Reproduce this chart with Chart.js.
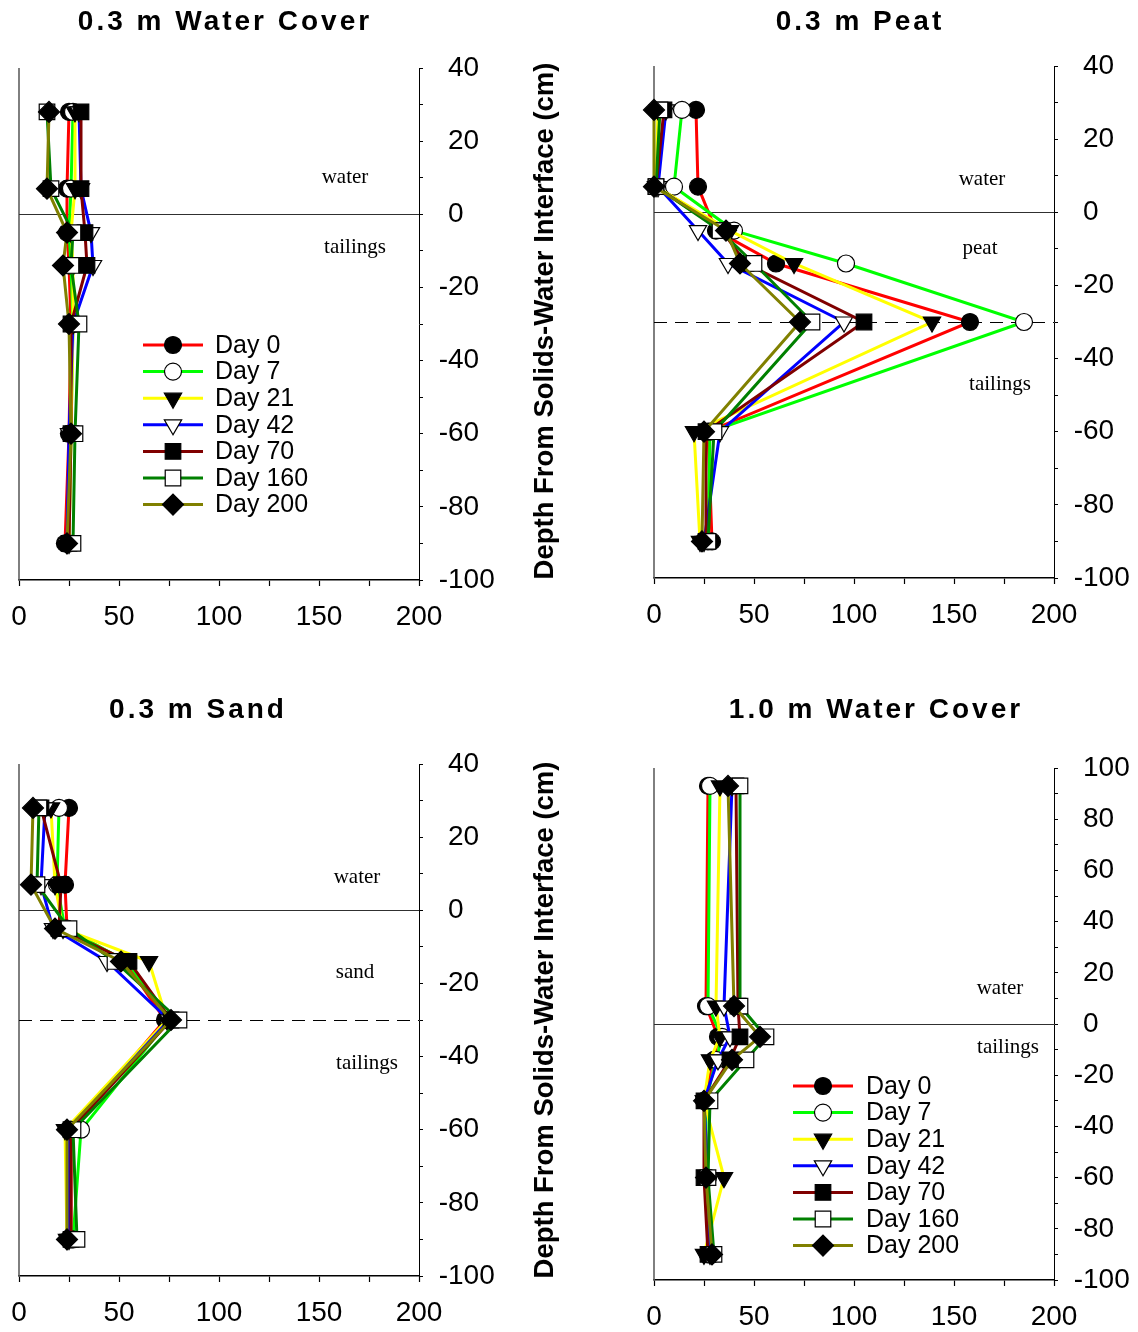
<!DOCTYPE html>
<html>
<head>
<meta charset="utf-8">
<title>Depth profiles</title>
<script src="https://cdn.jsdelivr.net/npm/chart.js@4.4.1/dist/chart.umd.min.js"></script>
<style>
  html, body { margin: 0; padding: 0; background: #fff; }
  #wrap { position: relative; width: 1138px; height: 1332px; overflow: hidden; }
  .panel { position: absolute; }
  canvas { display: block; }
</style>
</head>
<body>
<div id="wrap">
  <div class="panel" style="left:0;top:0"><canvas id="c1" width="569" height="666"></canvas></div>
  <div class="panel" style="left:569px;top:0"><canvas id="c2" width="569" height="666"></canvas></div>
  <div class="panel" style="left:0;top:666px"><canvas id="c3" width="569" height="666"></canvas></div>
  <div class="panel" style="left:569px;top:666px"><canvas id="c4" width="569" height="666"></canvas></div>
</div>
<script>
// ---- data -------------------------------------------------------------
const dayLabels = ['Day 0', 'Day 7', 'Day 21', 'Day 42', 'Day 70', 'Day 160', 'Day 200'];

// sampling depths (cm) relative to the solids-water interface
const depthsShallow = [28, 7, -5, -14, -30, -60, -90];
const depthsDeep    = [93, 7, -5, -14, -30, -60, -90];

// one row per sampling day, one value per depth
const water03Values = [
  [25, 24, 24, 25, 26, 25, 23],
  [27, 26, 25, 26, 27, 26, 25],
  [28, 28, 26, 27, 27, 26, 25],
  [30, 31, 36, 37, 27, 25, 24],
  [31, 31, 33, 34, 26, 26, 25],
  [14, 16, 27, 26, 30, 28, 27],
  [15, 14, 24, 22, 25, 26, 24]
];
const peat03Values = [
  [21, 22, 31, 61, 158, 27, 29],
  [14, 10, 40, 96, 185, 28, 27],
  [2, 1, 38, 70, 139, 20, 23],
  [6, 2, 22, 37, 95, 33, 25],
  [5, 1, 34, 46, 105, 26, 26],
  [3, 1, 33, 50, 79, 30, 27],
  [0, 0, 36, 43, 73, 25, 24]
];
const sand03Values = [
  [25, 23, 24, 53, 73, 26, 26],
  [20, 19, 23, 54, 75, 31, 27],
  [16, 18, 22, 65, 74, 23, 24],
  [13, 11, 17, 44, 75, 25, 25],
  [11, 21, 20, 55, 76, 26, 26],
  [10, 9, 25, 48, 80, 27, 29],
  [7, 6, 18, 51, 76, 24, 24]
];
const water10Values = [
  [27, 26, 32, 30, 25, 27, 27],
  [28, 27, 34, 31, 26, 26, 29],
  [33, 31, 33, 28, 25, 35, 25],
  [39, 35, 38, 32, 25, 27, 28],
  [41, 42, 43, 38, 25, 25, 27],
  [43, 43, 56, 46, 28, 27, 30],
  [37, 40, 53, 39, 25, 26, 29]
];

const xTickLabels = [0, 50, 100, 150, 200];
const yTickLabelsShort = [40, 20, 0, -20, -40, -60, -80, -100];
const yTickLabelsTall = [100, 80, 60, 40, 20, 0, -20, -40, -60, -80, -100];

// ---- styles -----------------------------------------------------------
const lineColors = ['#ff0000', '#00ff00', '#ffff00', '#0000ff', '#800000', '#008000', '#808000'];
const markerStyles = ['circle', 'circle', 'triangle', 'triangle', 'rect', 'rect', 'rectRot'];
const markerRotation = [0, 0, 180, 180, 0, 0, 0];
const markerRadius = [8.5, 8.5, 10, 10, 11, 11, 10.5];
const markerFill = ['#000', '#fff', '#000', '#fff', '#000', '#fff', '#000'];

const SANS = '"Liberation Sans", Arial, sans-serif';
const SERIF = '"Liberation Serif", "Times New Roman", serif';
const TICK_FONT_SIZE = 28;

// draws one legend symbol with the same geometry Chart.js uses
function drawMarker(ctx, style, rot, r, fill, x, y) {
  ctx.save();
  ctx.fillStyle = fill;
  ctx.strokeStyle = '#000';
  ctx.lineWidth = 1.2;
  ctx.beginPath();
  if (style === 'circle') {
    ctx.arc(x, y, r, 0, Math.PI * 2);
  } else if (style === 'triangle') {
    let a = rot * Math.PI / 180;
    ctx.moveTo(x + Math.sin(a) * r, y - Math.cos(a) * r);
    a += 2 * Math.PI / 3;
    ctx.lineTo(x + Math.sin(a) * r, y - Math.cos(a) * r);
    a += 2 * Math.PI / 3;
    ctx.lineTo(x + Math.sin(a) * r, y - Math.cos(a) * r);
    ctx.closePath();
  } else if (style === 'rect') {
    const s = Math.SQRT1_2 * r;
    ctx.rect(x - s, y - s, 2 * s, 2 * s);
  } else if (style === 'rectRot') {
    ctx.moveTo(x - r, y);
    ctx.lineTo(x, y + r);
    ctx.lineTo(x + r, y);
    ctx.lineTo(x, y - r);
    ctx.closePath();
  }
  ctx.fill();
  ctx.stroke();
  ctx.restore();
}

// titles, axis title, right-hand tick labels, interface lines, zone labels and legend
const decorPlugin = {
  id: 'decor',
  beforeDatasetsDraw(chart, args, opts) {
    const ctx = chart.ctx;
    const area = chart.chartArea;
    const ys = chart.scales.y;
    ctx.save();
    // left frame line
    ctx.strokeStyle = '#606060';
    ctx.lineWidth = 1.6;
    ctx.beginPath();
    ctx.moveTo(area.left, area.top);
    ctx.lineTo(area.left, area.bottom);
    ctx.stroke();
    // solids-water interface
    const y0 = Math.round(ys.getPixelForValue(0)) + 0.5;
    ctx.strokeStyle = '#303030';
    ctx.lineWidth = 1;
    ctx.beginPath();
    ctx.moveTo(area.left, y0);
    ctx.lineTo(area.right, y0);
    ctx.stroke();
    // cover / tailings boundary
    if (opts.dashedAt !== undefined && opts.dashedAt !== null) {
      const yd = Math.round(ys.getPixelForValue(opts.dashedAt)) + 0.5;
      ctx.strokeStyle = '#000';
      ctx.lineWidth = 1;
      ctx.setLineDash([13, 8]);
      ctx.beginPath();
      ctx.moveTo(area.left, yd);
      ctx.lineTo(area.right, yd);
      ctx.stroke();
      ctx.setLineDash([]);
    }
    // zone labels
    ctx.fillStyle = '#000';
    ctx.font = '21px ' + SERIF;
    ctx.textAlign = 'center';
    ctx.textBaseline = 'middle';
    (opts.zones || []).forEach(z => {
      ctx.fillText(z.text, chart.scales.x.getPixelForValue(z.x), ys.getPixelForValue(z.y));
    });
    ctx.restore();
  },
  afterDraw(chart, args, opts) {
    const ctx = chart.ctx;
    const ys = chart.scales.y;
    ctx.save();
    ctx.fillStyle = '#000';
    // depth tick labels: digits line up, the minus sign hangs to the left
    ctx.font = TICK_FONT_SIZE + 'px ' + SANS;
    ctx.textAlign = 'left';
    ctx.textBaseline = 'middle';
    const minusW = ctx.measureText('-').width;
    const labelX = chart.chartArea.right + 29;
    opts.yTicks.forEach(v => {
      const y = ys.getPixelForValue(v);
      ctx.fillText(String(v), v < 0 ? labelX - minusW : labelX, y);
    });
    // panel title
    ctx.font = 'bold 28px ' + SANS;
    ctx.textAlign = 'center';
    if ('letterSpacing' in ctx) ctx.letterSpacing = '3px';
    ctx.fillText(opts.title, opts.titleX, opts.titleY);
    if ('letterSpacing' in ctx) ctx.letterSpacing = '0px';
    // vertical axis title
    if (opts.yTitle) {
      ctx.save();
      ctx.translate(opts.yTitleX, opts.yTitleY);
      ctx.rotate(-Math.PI / 2);
      ctx.font = 'bold 27.5px ' + SANS;
      ctx.fillText(opts.yTitle, 0, 0);
      ctx.restore();
    }
    // legend
    if (opts.legend) {
      const L = opts.legend;
      ctx.font = '25px ' + SANS;
      ctx.textAlign = 'left';
      ctx.textBaseline = 'middle';
      chart.data.datasets.forEach((ds, i) => {
        const y = L.y0 + i * L.dy;
        ctx.strokeStyle = ds.borderColor;
        ctx.lineWidth = 3;
        ctx.beginPath();
        ctx.moveTo(L.x1, y);
        ctx.lineTo(L.x2, y);
        ctx.stroke();
        drawMarker(ctx, markerStyles[i], markerRotation[i], markerRadius[i], markerFill[i], (L.x1 + L.x2) / 2, y);
        ctx.fillStyle = '#000';
        ctx.fillText(ds.label, L.textX, y + 1);
      });
    }
    ctx.restore();
  }
};

function makePanel(id, p) {
  const canvas = document.getElementById(id);
  const W = canvas.width, H = canvas.height;
  const datasets = p.values.map((vals, i) => ({
    label: dayLabels[i],
    data: vals.map((v, k) => ({ x: v, y: p.depths[k] })),
    showLine: true,
    borderColor: lineColors[i],
    backgroundColor: lineColors[i],
    borderWidth: 3,
    tension: 0,
    pointStyle: markerStyles[i],
    pointRotation: markerRotation[i],
    pointRadius: markerRadius[i],
    pointHoverRadius: markerRadius[i],
    pointBackgroundColor: markerFill[i],
    pointBorderColor: '#000',
    pointBorderWidth: 1.2,
    order: dayLabels.length - i,
    clip: false
  }));
  p.decor.yTicks = p.yTicks;
  return new Chart(canvas, {
    type: 'scatter',
    data: { datasets },
    plugins: [decorPlugin],
    options: {
      responsive: false,
      animation: false,
      layout: { padding: { left: p.left, top: p.top, right: 0, bottom: 0 } },
      plugins: {
        legend: { display: false },
        tooltip: { enabled: false },
        title: { display: false },
        decor: p.decor
      },
      scales: {
        x: {
          type: 'linear',
          position: 'bottom',
          min: 0,
          max: 200,
          // fixed axis band so the plot area lands where the layout padding puts it
          afterFit: s => { s.height = H - p.bottom; s.paddingLeft = 0; s.paddingRight = 0; },
          ticks: {
            stepSize: 25,
            autoSkip: false,
            maxRotation: 0,
            color: '#000',
            padding: 14,
            font: { family: SANS, size: TICK_FONT_SIZE },
            callback: v => xTickLabels.includes(v) ? String(v) : ''
          },
          grid: { drawOnChartArea: false, drawTicks: true, tickLength: 6, color: '#000', tickColor: '#000', tickWidth: 1.2 },
          border: { display: true, color: '#000', width: 1.6 }
        },
        y: {
          type: 'linear',
          position: 'right',
          min: -100,
          max: p.yMax,
          afterFit: s => { s.width = W - p.right; s.paddingTop = 0; s.paddingBottom = 0; },
          ticks: { stepSize: 10, autoSkip: false, display: false },
          grid: { drawOnChartArea: false, drawTicks: true, tickLength: 4, color: '#000', tickColor: '#000', tickWidth: 1 },
          border: { display: true, color: '#000', width: 1 }
        }
      }
    }
  });
}

const depthTitle = 'Depth From Solids-Water Interface (cm)';

makePanel('c1', {
  values: water03Values, depths: depthsShallow, yMax: 40, yTicks: yTickLabelsShort,
  left: 19, right: 419, top: 68, bottom: 580,
  decor: {
    title: '0.3 m Water Cover', titleX: 225, titleY: 22,
    yTitle: depthTitle, yTitleX: 545, yTitleY: 321,
    dashedAt: null,
    zones: [{ text: 'water', x: 163, y: 10 }, { text: 'tailings', x: 168, y: -9 }],
    legend: { x1: 143, x2: 203, textX: 215, y0: 345, dy: 26.6 }
  }
});

makePanel('c2', {
  values: peat03Values, depths: depthsShallow, yMax: 40, yTicks: yTickLabelsShort,
  left: 85, right: 485, top: 66, bottom: 578,
  decor: {
    title: '0.3 m Peat', titleX: 291, titleY: 22,
    dashedAt: -30,
    zones: [{ text: 'water', x: 164, y: 9 }, { text: 'peat', x: 163, y: -10 }, { text: 'tailings', x: 173, y: -47 }]
  }
});

makePanel('c3', {
  values: sand03Values, depths: depthsShallow, yMax: 40, yTicks: yTickLabelsShort,
  left: 19, right: 419, top: 98, bottom: 610,
  decor: {
    title: '0.3 m Sand', titleX: 198, titleY: 44,
    yTitle: depthTitle, yTitleX: 545, yTitleY: 354,
    dashedAt: -30,
    zones: [{ text: 'water', x: 169, y: 9 }, { text: 'sand', x: 168, y: -17 }, { text: 'tailings', x: 174, y: -42 }]
  }
});

makePanel('c4', {
  values: water10Values, depths: depthsDeep, yMax: 100, yTicks: yTickLabelsTall,
  left: 85, right: 485, top: 102, bottom: 614,
  decor: {
    title: '1.0 m Water Cover', titleX: 307, titleY: 44,
    dashedAt: null,
    zones: [{ text: 'water', x: 173, y: 14 }, { text: 'tailings', x: 177, y: -9 }],
    legend: { x1: 224, x2: 284, textX: 297, y0: 420, dy: 26.6 }
  }
});
</script>
</body>
</html>
